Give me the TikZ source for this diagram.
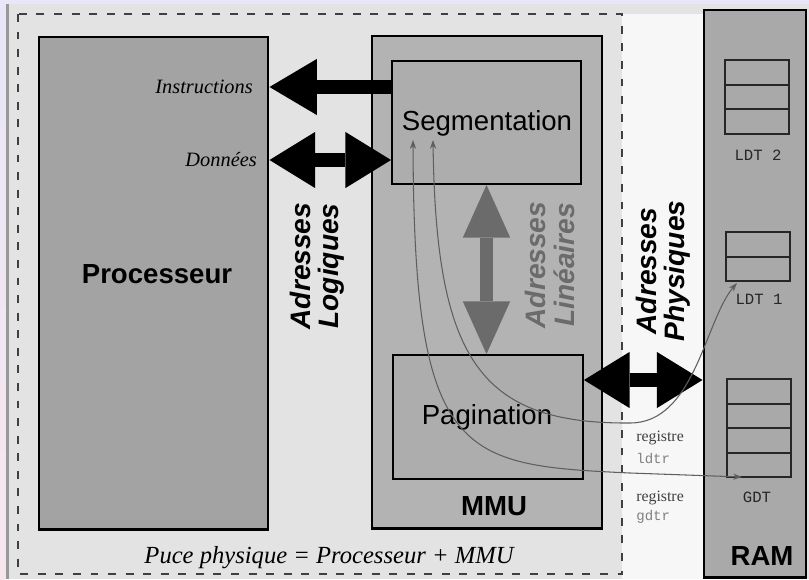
\documentclass[tikz,border=0pt]{standalone}
\usepackage{fontspec}
\setmainfont{Liberation Serif}
\setsansfont{Liberation Sans}
\setmonofont{Liberation Mono}
\usetikzlibrary{arrows.meta,fit,positioning}

\definecolor{paper}{HTML}{E3E3E3}
\definecolor{paperwhite}{HTML}{F7F7F7}
\definecolor{scanedge}{HTML}{E8E6F8}
\definecolor{scanpink}{HTML}{F8E6EE}
\definecolor{procgray}{HTML}{A3A3A3}
\definecolor{mmugray}{HTML}{B3B3B3}
\definecolor{unitgray}{HTML}{ADADAD}
\definecolor{ramgray}{HTML}{A9A9A9}
\definecolor{lingray}{HTML}{6B6B6B}
\definecolor{reggray}{HTML}{5E5E5E}

\tikzset{
  block/.style={draw=black, line width=1.7pt, inner sep=0pt},
  unit/.style={draw=black, line width=1.1pt, inner sep=0pt, fill=unitgray},
  tbl/.style={draw=black!85, line width=0.8pt, inner sep=0pt, fill=ramgray},
  tblrow/.style={draw=black!85, line width=0.8pt},
  bigsans/.style={font=\sffamily\fontsize{15.7}{18}\selectfont},
  bigbold/.style={font=\sffamily\bfseries\fontsize{15.7}{18}\selectfont},
  sidename/.style={anchor=east, font=\itshape\fontsize{11.6}{13}\selectfont},
  busname/.style={font=\sffamily\bfseries\itshape\fontsize{16}{16}\selectfont, rotate=90, align=center},
  bus/.style={line width=8pt, {Triangle[length=26pt,width=32pt,line width=0pt]}-{Triangle[length=26pt,width=32pt,line width=0pt]}},
  bushalf/.style={line width=8pt, -{Triangle[length=27pt,width=32pt,line width=0pt]}},
  linbus/.style={line width=7.5pt, draw=lingray, {Triangle[length=30pt,width=27pt,line width=0pt]}-{Triangle[length=30pt,width=27pt,line width=0pt]}},
  tblname/.style={font=\ttfamily\fontsize{8.9}{10}\selectfont, text=black!85},
  regname/.style={anchor=west, inner sep=0pt, font=\fontsize{9}{10}\selectfont, text=black!75},
  regmono/.style={anchor=west, inner sep=0pt, font=\ttfamily\fontsize{8}{9}\selectfont, text=black!50},
  regarrow/.style={draw=reggray, line width=0.6pt, {Stealth[length=5pt,width=3.5pt]}-{Stealth[length=5pt,width=3.5pt]}},
}

\begin{document}
\begin{tikzpicture}[x=0.02cm,y=-0.02cm]
  \useasboundingbox (0,0) rectangle (809,579);
  % scanned page
  \fill[paper] (0,0) rectangle (809,579);
  \fill[paperwhite] (622,14) rectangle (705,579);
  \shade[top color=scanedge, bottom color=scanpink] (0,0) rectangle (6,579);
  \fill[scanedge] (0,0) rectangle (809,4);
  \fill[black!40] (6,4) rectangle (9,579);

  % chip outline
  \draw[black!75, line width=0.9pt, dash pattern=on 4.5pt off 5.5pt] (18,14) rectangle (622,574);
  \node[font=\itshape\fontsize{14}{16}\selectfont] (chiplabel) at (329,558) {Puce physique = Processeur + MMU};

  % blocks
  \node[block, fill=procgray, fit={(39,37) (268,529)}] (proc) {};
  \node[block, fill=mmugray, fit={(372,36) (602,528)}] (mmu) {};
  \node[unit, fit={(392,61) (581,184)}] (seg) {};
  \node[unit, fit={(393,355) (583,479)}] (pag) {};
  \node[block, fill=ramgray, fit={(704,10) (806,577)}] (ram) {};

  \node[bigbold] (proclabel) at (157,274) {Processeur};
  \node[bigsans] (seglabel) at (487,123) {Segmentation};
  \node[bigsans] (paglabel) at (487,417) {Pagination};
  \node[bigbold] (mmulabel) at (494,506) {MMU};
  \node[bigbold] (ramlabel) at (762,556) {RAM};

  % tables in RAM
  \node[tbl, fit={(725,60) (789,134)}] (ldt2) {};
  \foreach \y in {85,109} \draw[tblrow] (725,\y) -- (789,\y);
  \node[tblname] (ldt2label) at (758,155) {LDT 2};
  \node[tbl, fit={(726,232) (790,281)}] (ldt1) {};
  \draw[tblrow] (726,257) -- (790,257);
  \node[tblname] (ldt1label) at (759,299) {LDT 1};
  \node[tbl, fit={(727,379) (791,477)}] (gdt) {};
  \foreach \y in {404,428,453} \draw[tblrow] (727,\y) -- (791,\y);
  \node[tblname] (gdtlabel) at (757,497) {GDT};

  % buses
  \node[sidename] (instr) at (259,87) {Instructions};
  \node[sidename] (donnees) at (263,160) {Données};
  \draw[bushalf] (seg.west |- instr) -- (proc.east |- instr);
  \draw[bus] (proc.east |- donnees) -- (seg.west |- donnees);
  \draw[linbus] (seg.south) -- (seg.south |- pag.north);
  \coordinate (physbus) at (640,380);
  \draw[bus] (pag.east |- physbus) -- (ram.west |- physbus);

  \node[busname] (logiques) at (317,266) {Adresses\\Logiques};
  \node[busname, text=lingray] (lineaires) at (550,265) {Adresses\\Linéaires};
  \node[busname] (physiques) at (663,271) {Adresses\\Physiques};

  % registers
  \node[regname] (ldtrname) at (636,438) {registre};
  \node[regmono] (ldtrmono) at (636,458) {ldtr};
  \node[regname] (gdtrname) at (636,498) {registre};
  \node[regmono] (gdtrmono) at (636,517) {gdtr};

  \coordinate (segldt) at (433,140);
  \coordinate (ldtrpt) at (630,423);
  \coordinate (ldt1in) at (737,283);
  \coordinate (seggdt) at (413,140);
  \coordinate (gdtrpt) at (630,473);
  \coordinate (gdtin) at (742,477);
  \draw[regarrow] (segldt) .. controls (436,360) and (480,424) .. (ldtrpt)
    .. controls (695,423) and (705,320) .. (ldt1in);
  \draw[regarrow] (seggdt) .. controls (414,460) and (460,465) .. (gdtrpt) -- (gdtin);
\end{tikzpicture}
\end{document}
